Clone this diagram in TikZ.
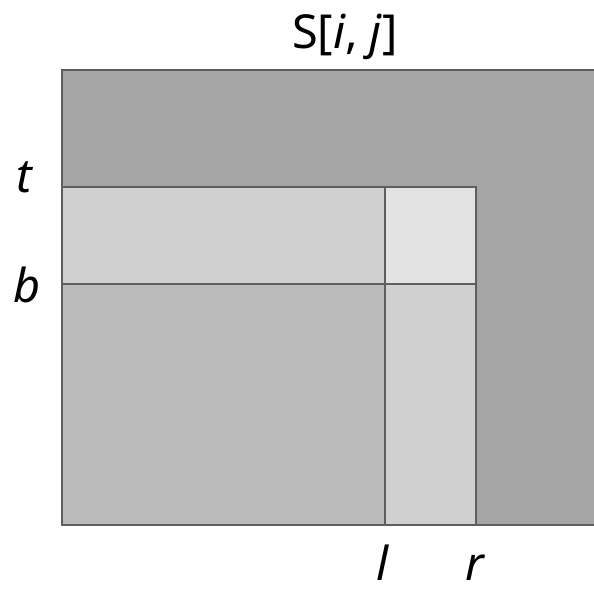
\documentclass[tikz,border=0pt]{standalone}
\usepackage{fontspec}
\setmainfont{Noto Sans}
\definecolor{celldark}{HTML}{A5A5A5}
\definecolor{cellmid}{HTML}{BABABA}
\definecolor{celllight}{HTML}{D0D0D0}
\definecolor{celltop}{HTML}{E3E3E3}
\definecolor{cellline}{HTML}{5E5E5E}
\tikzset{
  cell/.style={draw=cellline, line width=1.2bp},
  lbl/.style={anchor=base, inner sep=0pt, font=\fontsize{47}{56}\selectfont}
}

\begin{document}
\begin{tikzpicture}[x=1bp, y=-1bp]
  \useasboundingbox (0,0) rectangle (594,590);
  \clip (0,0) rectangle (594,590);

  % Whole matrix S
  \filldraw[cell, fill=celldark] (62,70) rectangle (610,525);

  % Sub-rectangle below t and left of r
  \filldraw[cell, fill=cellmid] (62,187) rectangle (476,525);

  % Rows t..b and columns l..r
  \filldraw[cell, fill=celllight] (62,187) rectangle (385,284);
  \filldraw[cell, fill=celllight] (385,284) rectangle (476,525);
  \filldraw[cell, fill=celltop] (385,187) rectangle (476,284);

  % Labels
  \node[lbl] (title) at (345,49) {S[\textit{i}, \textit{j}]};
  \node[lbl] (top) at (25,192) {\textit{t}};
  \node[lbl] (bottom) at (27,302) {\textit{b}};
  \node[lbl] (left) at (383,580) {\textit{l}};
  \node[lbl] (right) at (476,580) {\textit{r}};
\end{tikzpicture}
\end{document}
